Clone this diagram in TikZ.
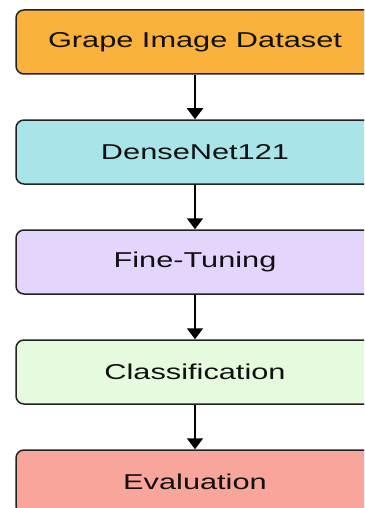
\documentclass[tikz,border=0pt]{standalone}
\usepackage{fontspec}
\setmainfont[FakeStretch=1.43]{Liberation Sans}
\usetikzlibrary{arrows.meta}
\definecolor{cDataset}{HTML}{FAB23C}
\definecolor{cNet}{HTML}{A9E5E8}
\definecolor{cTune}{HTML}{E3D5FB}
\definecolor{cClass}{HTML}{E6FBDD}
\definecolor{cEval}{HTML}{F8A59B}
\definecolor{cEdge}{HTML}{222222}
\definecolor{cText}{HTML}{111111}
\begin{document}
\begin{tikzpicture}[x=1pt,y=-1pt,
  stage/.style={draw=cEdge, line width=1.5pt, rounded corners=8pt,
    minimum width=358pt, minimum height=64pt, inner sep=0pt,
    text=cText, font=\fontsize{21.5}{25}\selectfont},
  flow/.style={draw=black, line width=1.6pt,
    -{Triangle[width=16pt,length=11pt]}}]
  \useasboundingbox (0,0) rectangle (364,508);
  \clip (0,0) rectangle (364,508);
  \node[stage, fill=cDataset] (data)  at (195,42)  {Grape Image Dataset};
  \node[stage, fill=cNet]     (net)   at (195,152) {DenseNet121};
  \node[stage, fill=cTune]    (tune)  at (195,262) {Fine-Tuning};
  \node[stage, fill=cClass]   (cls)   at (195,372) {Classification};
  \node[stage, fill=cEval]    (eval)  at (195,482) {Evaluation};
  \draw[flow] (data) -- (net);
  \draw[flow] (net) -- (tune);
  \draw[flow] (tune) -- (cls);
  \draw[flow] (cls) -- (eval);
\end{tikzpicture}
\end{document}
